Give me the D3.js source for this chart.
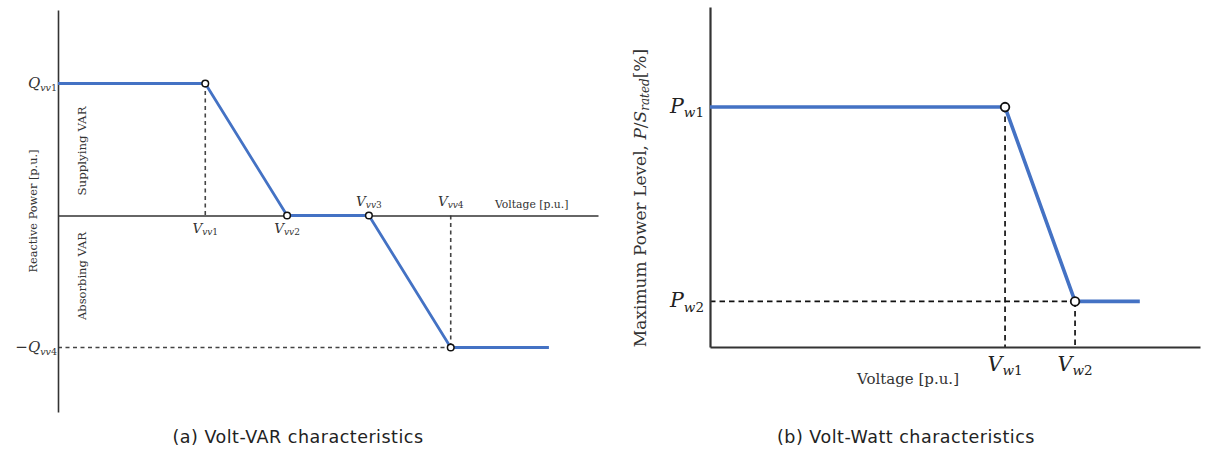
<!DOCTYPE html>
<html>
<head>
<meta charset="utf-8">
<script src="https://cdn.jsdelivr.net/npm/d3@7"></script>
<style>
  html, body { margin: 0; padding: 0; background: #ffffff; }
  svg { display: block; }
</style>
</head>
<body>
<svg id="chart" width="1215" height="457"></svg>
<script>
// ---------------- data ----------------
// (a) Volt-VAR curve breakpoints (voltage p.u., reactive power p.u.)
const vvVoltage = [0.83, 0.92, 0.97, 1.02, 1.07, 1.13];
const vvQ       = [0.44, 0.44, 0.00, 0.00, -0.44, -0.44];
const vvMarkers = [1, 2, 3, 4];
const vvXDomain = [0.83, 1.16];
const vvYDomain = [-0.655, 0.685];
const vvVLabels = [
  { i: 1, base: "V", sub: "vv", num: "1", side: "below" },
  { i: 2, base: "V", sub: "vv", num: "2", side: "below" },
  { i: 3, base: "V", sub: "vv", num: "3", side: "above" },
  { i: 4, base: "V", sub: "vv", num: "4", side: "above" }
];
// (b) Volt-Watt curve breakpoints (voltage p.u., P/S_rated %)
const vwVoltage = [0.8914, 1.06, 1.10, 1.137];
const vwP       = [100, 100, 19, 19];
const vwMarkers = [1, 2];
const vwXDomain = [0.8914, 1.1714];
const vwYDomain = [0, 141.7];
const captions = ["(a) Volt-VAR characteristics", "(b) Volt-Watt characteristics"];

// ---------------- drawing ----------------
const svg = d3.select("#chart");
const BLUE = "#4472c4";
const SERIF = "'DejaVu Serif', 'Liberation Serif', serif";
const SANS = "'DejaVu Sans', 'Open Sans', sans-serif";

function mathLabel(g, x, y, base, sub, num, size, subSize, anchor, color, prefix) {
  const t = g.append("text")
    .attr("x", x).attr("y", y)
    .attr("text-anchor", anchor)
    .attr("font-family", SERIF)
    .attr("fill", color);
  if (prefix) t.append("tspan").attr("font-size", size).text(prefix);
  t.append("tspan").attr("font-size", size).attr("font-style", "italic").text(base);
  t.append("tspan").attr("font-size", subSize).attr("font-style", "italic")
    .attr("dy", size * 0.2).text(sub);
  t.append("tspan").attr("font-size", subSize).text(num);
  return t;
}

// ===== Panel (a) =====
const ga = svg.append("g");
const xa = d3.scaleLinear().domain(vvXDomain).range([58, 598]);
const ya = d3.scaleLinear().domain(vvYDomain).range([412, 10]);

const dashA = { stroke: "#444", width: 1.6, dash: "4,3.5" };
function dashLine(g, x1, y1, x2, y2, s) {
  g.append("line").attr("x1", x1).attr("y1", y1).attr("x2", x2).attr("y2", y2)
    .attr("stroke", s.stroke).attr("stroke-width", s.width).attr("stroke-dasharray", s.dash);
}
dashLine(ga, xa(vvVoltage[1]), ya(vvQ[1]), xa(vvVoltage[1]), ya(0), dashA);
dashLine(ga, xa(vvVoltage[4]), ya(0), xa(vvVoltage[4]), ya(vvQ[4]), dashA);
dashLine(ga, xa(vvXDomain[0]), ya(vvQ[4]), xa(vvVoltage[4]), ya(vvQ[4]), dashA);

// axes
const axA_x = ga.append("g").attr("transform", `translate(0,${ya(0)})`)
  .call(d3.axisBottom(xa).tickValues([]).tickSizeOuter(0));
const axA_y = ga.append("g").attr("transform", `translate(${xa(vvXDomain[0])},0)`)
  .call(d3.axisLeft(ya).tickValues([]).tickSizeOuter(0));
[axA_x, axA_y].forEach(a => a.select(".domain").attr("stroke", "#333").attr("stroke-width", 1.6));

// curve
const pts = vvVoltage.map((v, i) => [v, vvQ[i]]);
ga.append("path")
  .attr("d", d3.line().x(d => xa(d[0])).y(d => ya(d[1]))(pts))
  .attr("fill", "none").attr("stroke", BLUE).attr("stroke-width", 2.8)
  .attr("stroke-linejoin", "round");
ga.selectAll("circle.m").data(vvMarkers).join("circle")
  .attr("cx", i => xa(vvVoltage[i])).attr("cy", i => ya(vvQ[i]))
  .attr("r", 3.3).attr("fill", "#fff").attr("stroke", "#111").attr("stroke-width", 1.5);

// labels
mathLabel(ga, 57, ya(vvQ[0]) + 4, "Q", "vv", "1", 15, 9.5, "end", "#333");
mathLabel(ga, 57, ya(vvQ[4]) + 4, "Q", "vv", "4", 15, 9.5, "end", "#333", "\u2212");
vvVLabels.forEach(l => {
  const y = l.side === "below" ? ya(0) + 17 : ya(0) - 10;
  mathLabel(ga, xa(vvVoltage[l.i]), y, l.base, l.sub, l.num, 13.5, 9, "middle", "#333");
});
ga.append("text").attr("x", 495).attr("y", ya(0) - 8)
  .attr("font-family", SERIF).attr("font-size", 10.8).attr("fill", "#333")
  .text("Voltage [p.u.]");
function rotText(g, x, y, size, txt) {
  g.append("text").attr("transform", `translate(${x},${y}) rotate(-90)`)
    .attr("text-anchor", "middle").attr("font-family", SERIF).attr("font-size", size).attr("fill", "#333")
    .text(txt);
}
rotText(ga, 37, 211, 11.3, "Reactive Power [p.u.]");
rotText(ga, 86, 151, 11.8, "Supplying VAR");
rotText(ga, 86, 276, 11.5, "Absorbing VAR");

// ===== Panel (b) =====
const gb = svg.append("g");
const xb = d3.scaleLinear().domain(vwXDomain).range([710, 1200]);
const yb = d3.scaleLinear().domain(vwYDomain).range([347, 7]);

const dashB = { stroke: "#111", width: 1.7, dash: "5.5,4" };
dashLine(gb, xb(vwXDomain[0]), yb(vwP[2]), xb(vwVoltage[2]), yb(vwP[2]), dashB);
vwMarkers.forEach(i => dashLine(gb, xb(vwVoltage[i]), yb(vwP[i]), xb(vwVoltage[i]), yb(0), dashB));

const axB_x = gb.append("g").attr("transform", `translate(0,${yb(0)})`)
  .call(d3.axisBottom(xb).tickValues([]).tickSizeOuter(0));
const axB_y = gb.append("g").attr("transform", `translate(${xb(vwXDomain[0])},0)`)
  .call(d3.axisLeft(yb).tickValues([]).tickSizeOuter(0));
[axB_x, axB_y].forEach(a => a.select(".domain").attr("stroke", "#333").attr("stroke-width", 2.2));

const ptsB = vwVoltage.map((v, i) => [v, vwP[i]]);
gb.append("path")
  .attr("d", d3.line().x(d => xb(d[0])).y(d => yb(d[1]))(ptsB))
  .attr("fill", "none").attr("stroke", BLUE).attr("stroke-width", 3.6)
  .attr("stroke-linejoin", "round");
gb.selectAll("circle.m").data(vwMarkers).join("circle")
  .attr("cx", i => xb(vwVoltage[i])).attr("cy", i => yb(vwP[i]))
  .attr("r", 4.3).attr("fill", "#fff").attr("stroke", "#111").attr("stroke-width", 1.8);

mathLabel(gb, 704, yb(vwP[0]) + 6, "P", "w", "1", 20.5, 13.5, "end", "#222");
mathLabel(gb, 704, yb(vwP[2]) + 6, "P", "w", "2", 20.5, 13.5, "end", "#222");
mathLabel(gb, xb(vwVoltage[1]), 371, "V", "w", "1", 20.5, 13.5, "middle", "#222");
mathLabel(gb, xb(vwVoltage[2]), 371, "V", "w", "2", 20.5, 13.5, "middle", "#222");
gb.append("text").attr("x", 908).attr("y", 384).attr("text-anchor", "middle")
  .attr("font-family", SERIF).attr("font-size", 15).attr("fill", "#333")
  .text("Voltage [p.u.]");
const yl = gb.append("text").attr("transform", `translate(646,198) rotate(-90)`)
  .attr("text-anchor", "middle").attr("font-family", SERIF).attr("font-size", 17).attr("fill", "#333");
yl.append("tspan").text("Maximum Power Level, ");
yl.append("tspan").attr("font-style", "italic").text("P");
yl.append("tspan").text("/");
yl.append("tspan").attr("font-style", "italic").text("S");
yl.append("tspan").attr("font-style", "italic").attr("font-size", 12).attr("dy", 3).text("rated");
yl.append("tspan").attr("dy", -3).text("[%]");

// captions
svg.selectAll("text.cap").data(captions).join("text")
  .attr("class", "cap")
  .attr("x", (d, i) => i === 0 ? 298 : 906)
  .attr("y", 443)
  .attr("text-anchor", "middle")
  .attr("font-family", SANS).attr("font-size", 17.5).attr("letter-spacing", 0.5).attr("fill", "#222")
  .text(d => d);
</script>
</body>
</html>
